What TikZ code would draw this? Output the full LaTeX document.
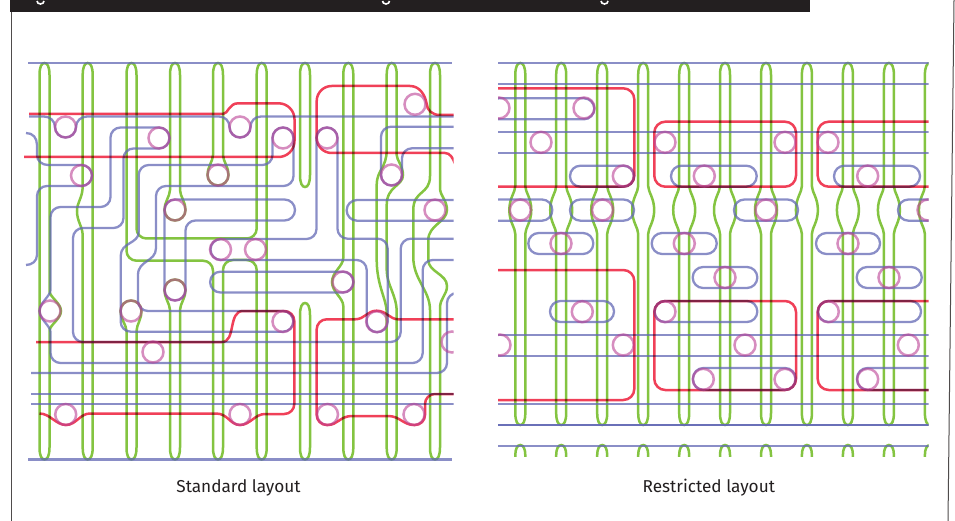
\documentclass[tikz,border=0pt]{standalone}
\usepackage{fontspec}
\setmainfont{Fira Sans}
\definecolor{bl}{HTML}{6369B5}
\definecolor{gr}{HTML}{84C441}
\definecolor{rd}{HTML}{F04058}
\definecolor{pk}{HTML}{BB4295}
\definecolor{ink}{HTML}{231F20}
\tikzset{
  bline/.style={draw=bl,line width=2.3pt,draw opacity=.75,blend mode=normal},
  gline/.style={draw=gr,line width=2.5pt},
  rline/.style={draw=rd,line width=2.5pt},
  circ/.style={draw=pk,line width=2.5pt,draw opacity=.6,blend mode=normal},
  rc/.style={rounded corners=10pt},
  sc/.style={sharp corners},
  caption/.style={text=ink,font=\fontsize{17.2}{20}\selectfont,anchor=base}
}
% hairpin ends, drawn from the current point on one strand to the other strand
\newcommand\TC[2]{.. controls ({#1-5},{#2-4}) and ({#1-3},#2) .. (#1,#2) .. controls ({#1+3},#2) and ({#1+5},{#2-4}) .. ({#1+5},{#2-12})}
\newcommand\BC[2]{.. controls ({#1+5},{#2+4}) and ({#1+3},#2) .. (#1,#2) .. controls ({#1-3},#2) and ({#1-5},{#2+4}) .. ({#1-5},{#2+12})}
\begin{document}
\begin{tikzpicture}[x=1pt,y=1pt]
\useasboundingbox (0,0) rectangle (955,-521);
\fill[white] (0,0) rectangle (955,-521);
% frame and header
\draw[ink!80,line width=1pt] (11,0) -- (11,-521);
\draw[ink!80,line width=1pt] (954,0) -- (948,-521);
\fill[ink] (10,0) rectangle (810,-12);
\foreach \x in {40.5,386,604.5}
  \draw[white,line width=1.6pt] ({\x-3.5},-1) arc[start angle=180,end angle=360,x radius=3.5,y radius=3];
\node[caption] (std) at (238.5,-492.7) {Standard layout};
\node[caption] (res) at (708.8,-492.7) {Restricted layout};
\begin{scope}[blend mode=multiply]
% ---------- left panel ----------
\begin{scope}
\clip (20,-55) rectangle (453.5,-470);
% green
\draw[gline] (39.5,-75) \TC{44.5}{-63} -- (49.5,-291) .. controls (49.5,-297) and (61,-303) .. (61,-311)
  .. controls (61,-319) and (49.5,-325) .. (49.5,-331) -- (49.5,-447.5) \BC{44.5}{-459.5} -- cycle;
\draw[gline] (82.7,-75) \TC{87.7}{-63} -- (92.7,-447.5) \BC{87.7}{-459.5} -- (82.7,-236)
  .. controls (82.7,-226) and (77,-222) .. (77,-211) .. controls (77,-202) and (82.7,-198) .. (82.7,-186) -- cycle;
\draw[gline] (126.5,-75) \TC{131.5}{-63} [rc] -- (136.5,-238.5) -- (256.7,-238.5) [sc] -- (256.7,-75) \TC{261.7}{-63}
  -- (266.7,-447.5) \BC{261.7}{-459.5} [rc] -- (256.7,-260) -- (223,-260) [sc] -- (223,-447.5) \BC{218}{-459.5}
  [rc] -- (213,-260.7) -- (126.5,-260.7) [sc] -- cycle;
\draw[gline] (213,-75) \TC{218}{-63} -- (223,-155) .. controls (223,-161) and (229,-168) .. (228.5,-175)
  arc[start angle=0,end angle=-180,radius=10.5] .. controls (207,-168) and (213,-161) .. (213,-155) -- cycle;
\draw[gline] (170,-75) \TC{175}{-63} -- (180,-190) .. controls (180,-196) and (186,-203) .. (185.5,-210)
  arc[start angle=0,end angle=-180,radius=10.5] .. controls (164,-203) and (170,-196) .. (170,-190) -- cycle;
\draw[gline] (180,-447.5) \BC{175}{-459.5} -- (170,-310) .. controls (170,-304) and (164,-297) .. (164.5,-290)
  arc[start angle=180,end angle=0,radius=10.5] .. controls (186,-297) and (180,-304) .. (180,-310) -- cycle;
\draw[gline] (136.5,-447.5) \BC{131.5}{-459.5} -- (126.5,-331) .. controls (126.5,-325) and (120,-318) .. (120.5,-311)
  arc[start angle=180,end angle=0,radius=10.5] .. controls (142,-318) and (136.5,-325) .. (136.5,-331) -- cycle;
\draw[gline] (300,-75) \TC{305}{-63} -- (310,-175) \BC{305}{-187} -- cycle;
\draw[gline] (300,-315) \TC{305}{-303} -- (310,-447.5) \BC{305}{-459.5} -- cycle;
\draw[gline] (343.3,-75) \TC{348.3}{-63} -- (353.3,-447.5) \BC{348.3}{-459.5} -- (343.3,-306)
  .. controls (343.3,-298) and (332,-292) .. (332,-282) .. controls (332,-272) and (343.3,-266) .. (343.3,-258) -- cycle;
\draw[gline] (386.7,-75) \TC{391.7}{-63} -- (396.7,-155) .. controls (396.7,-160) and (403,-166) .. (403,-175)
  .. controls (403,-186) and (386.7,-186) .. (386.7,-205) -- (386.7,-270)
  .. controls (386.7,-285) and (396.7,-295) .. (396.7,-312) -- (396.7,-447.5) \BC{391.7}{-459.5}
  -- (386.7,-312) .. controls (386.7,-300) and (376.7,-285) .. (376.7,-260) -- (376.7,-185)
  .. controls (376.7,-170) and (386.7,-168) .. (386.7,-150) -- cycle;
\draw[gline] (430,-75) \TC{435}{-63} -- (440,-188) .. controls (440,-196) and (447,-200) .. (447,-210)
  .. controls (447,-222) and (428.3,-225) .. (428.3,-240) -- (428.3,-260)
  .. controls (428.3,-272) and (447,-274) .. (447,-286) .. controls (447,-295) and (440,-298) .. (440,-308)
  -- (440,-447.5) \BC{435}{-459.5} -- (430,-310) .. controls (430,-290) and (413.3,-280) .. (413.3,-257)
  -- (413.3,-210) .. controls (413.3,-190) and (430,-195) .. (430,-176) -- cycle;
% blue
\draw[bline] (28,-63) -- (452,-63);
\draw[bline] (28,-459.5) -- (452,-459.5);
\draw[bline] (31,-394) -- (460,-394);
\draw[bline] (31,-404) -- (460,-404);
\draw[bline] (29,-116.5) -- (44,-116.5) .. controls (50,-116.5) and (55,-121) .. (55,-127)
  arc[start angle=180,end angle=360,radius=10.5] .. controls (76,-121) and (81,-116.5) .. (87,-116.5)
  -- (219,-116.5) .. controls (225,-116.5) and (229.5,-121) .. (229.5,-127)
  arc[start angle=180,end angle=360,radius=10.5] .. controls (250.5,-121) and (255,-116.5) .. (261,-116.5) -- (460,-116.5);
\draw[bline] (26,-133) .. controls (33,-133) and (37,-138) .. (37,-145) -- (37,-155)
  .. controls (37,-161) and (42,-165) .. (48,-165) -- (81.5,-165)
  arc[start angle=90,end angle=-90,radius=10.5] [rc] -- (37,-186) [sc] -- (37,-255)
  .. controls (37,-261) and (32,-265) .. (26,-265);
\draw[bline] (460,-260) [rc] -- (422.7,-260) -- (422.7,-363) -- (50.5,-363) [sc] -- (50.5,-332)
  .. controls (50.5,-326) and (39.5,-319) .. (39.5,-311) .. controls (39.5,-303) and (50.5,-296) .. (50.5,-290)
  [rc] -- (50.5,-207) -- (110.5,-207) -- (110.5,-127.5) [sc] -- (159,-127.5)
  arc[start angle=90,end angle=-90,radius=10.5] [rc] -- (123.5,-148.5) -- (123.5,-228) -- (73,-228)
  -- (73,-342) -- (400.7,-342) -- (400.7,-238.7) -- (460,-238.7);
\draw[bline] (283,-127.5) arc[start angle=90,end angle=180,radius=10.5] [rc] -- (272.5,-165) -- (138.7,-165)
  [sc] -- (138.7,-232) .. controls (138.7,-244) and (120.7,-242) .. (120.7,-256) [rc] -- (120.7,-331.7) [sc] -- (283,-331.7)
  arc[start angle=-90,end angle=90,radius=10.35] [rc] -- (138,-311) [sc] -- (138,-275)
  .. controls (138,-260) and (156,-262) .. (156,-248) [rc] -- (156,-186) -- (293.5,-186) [sc] -- (293.5,-138)
  arc[start angle=0,end angle=90,radius=10.5] -- cycle;
\draw[bline] (175,-199.5) -- (284.5,-199.5) arc[start angle=90,end angle=-90,radius=10.5]
  [rc] -- (185.5,-220.5) [sc] -- (185.5,-290) arc[start angle=0,end angle=-180,radius=10.5]
  -- (164.5,-210) arc[start angle=180,end angle=90,radius=10.5] -- cycle;
\draw[bline] (343,-271.7) -- (220.5,-271.7) arc[start angle=90,end angle=270,radius=10.4]
  -- (343,-292.5) arc[start angle=-90,end angle=90,radius=10.4] -- cycle;
\draw[bline] (221,-239) arc[start angle=90,end angle=270,radius=10.5] [rc] -- (366.7,-260) [sc] -- (366.7,-321.7)
  arc[start angle=180,end angle=360,radius=10.5] [rc] -- (387.7,-238.7) -- (337.5,-238.7) [sc] -- (337.5,-138)
  arc[start angle=0,end angle=180,radius=10.5] [rc] -- (316.5,-239) [sc] -- cycle;
\draw[bline] (460,-126.7) [rc] -- (381,-126.7) [sc] -- (381,-175) arc[start angle=180,end angle=360,radius=10.5]
  [rc] -- (402,-148.3) -- (460,-148.3);
\draw[bline] (460,-200) -- (357,-200) arc[start angle=90,end angle=270,radius=10.35] -- (460,-220.7);
\draw[bline] (31,-373) [rc] -- (447,-373) -- (447,-293) -- (470,-293);
% red
\draw[rline] (29,-114) -- (223,-114) .. controls (228,-114) and (229,-103.3) .. (238,-103.3)
  [rounded corners=16pt] -- (294.5,-103.3) -- (294.5,-157) -- (24,-157);
\draw[rline] (460,-115) -- (440,-115) .. controls (432,-115) and (427,-110) .. (426.7,-104)
  .. controls (425,-94) and (419,-86) .. (410,-86) [rounded corners=15pt] -- (316.7,-86) -- (316.7,-153) [sc] -- (445,-153)
  .. controls (450,-153) and (453,-158) .. (455,-164);
\draw[rline] (36,-342) -- (222,-342) .. controls (236,-342) and (228,-311) .. (243,-311) [rc] -- (294.3,-311)
  -- (294.3,-414) [sc] -- (265,-414) .. controls (255,-414) and (250,-425) .. (240,-425)
  .. controls (230,-425) and (228,-413.5) .. (216,-413.5) -- (90,-413.5)
  .. controls (80,-413.5) and (76,-425) .. (66,-425) .. controls (56,-425) and (50,-413.5) .. (39.5,-413.5);
\draw[rline] (460,-319.3) -- (398,-319.3) .. controls (390,-319.3) and (386,-310.7) .. (376.7,-310.7)
  .. controls (367,-310.7) and (365,-319.3) .. (355,-319.3) [rc] -- (316.7,-319.3) -- (316.7,-425) [sc] -- (327.5,-425)
  .. controls (338,-425) and (340,-416) .. (352,-416) -- (388,-416) .. controls (400,-416) and (403,-425) .. (414,-425)
  [rc] -- (425,-425) -- (425,-394) -- (460,-394);
% circles
\foreach \x/\y in {65.5/127,159/138,240/127,283/138,327/138,415/104.3,81.5/175.5,218/175,391.5/175,175/210,435/210,220.5/249.5,255.5/249.5,343/282,50/311,131/311,175/290,283/321.5,376.7/321.7,153/352,452/342,65.7/414.5,240/414.5,327.5/414.5,414/414.5}
  \draw[circ] (\x,-\y) circle[radius=10.5];
\end{scope}
% ---------- right panel ----------
\begin{scope}
\clip (498,-55) rectangle (928.5,-456.7);
\foreach \c in {520.3,561.2,602.2,643.2,684.2,725,766,806.9,847.9,888.9,929.9}
  \draw[gline] ({\c-5},-75) \TC{\c}{-63} -- ({\c+5},-186)
    .. controls ({\c+5},-192) and ({\c+11},-198) .. ({\c+11},-210)
    .. controls ({\c+11},-222) and ({\c+5},-228) .. ({\c+5},-234)
    -- ({\c+5},-413) \BC{\c}{-425} -- ({\c-5},-234)
    .. controls ({\c-5},-228) and ({\c-11},-222) .. ({\c-11},-210)
    .. controls ({\c-11},-198) and ({\c-5},-192) .. ({\c-5},-186) -- cycle
    ({\c-5},-462) -- ({\c-5},-455) .. controls ({\c-5},-449) and ({\c-3},-445) .. (\c,-445)
    .. controls ({\c+3},-445) and ({\c+5},-449) .. ({\c+5},-455) -- ({\c+5},-462);
\foreach \y in {63.3,84,131.7,153,335,356,404,446}
  \draw[bline] (490,-\y) -- (940,-\y);
\draw[bline,draw opacity=.95] (490,-425) -- (940,-425);
\foreach \t/\b/\l/\r in {98.3/119.3/488.5/594.3,
  165.7/186.7/570/634,165.7/186.7/671/756.7,165.7/186.7/834/920,
  199.5/220.7/480/552.3,199.5/220.7/570/634,199.5/220.7/734/798,199.5/220.7/898/960,
  233/254/528.3/593.3,233/254/651.7/716.7,233/254/816/880,
  267/288/692.7/757.3,267/288/856.7/921.7,
  301/322/550/614,301/322/654.5/757.3,301/322/818/921,
  368/390/693/795.5,368/390/857/960}
  \draw[bline,rounded corners=10.4pt] (\l,-\t) rectangle (\r,-\b);
\draw[rline,rounded corners=11pt] (490,-88.3) -- (634.3,-88.3) -- (634.3,-186.7) -- (490,-186.7);
\draw[rline,rounded corners=11pt] (654.3,-121.7) rectangle (796,-186.7);
\draw[rline,rounded corners=11pt] (940,-121.7) -- (817.7,-121.7) -- (817.7,-186.7) -- (940,-186.7);
\draw[rline,rounded corners=11pt] (490,-270) -- (634.3,-270) -- (634.3,-400) -- (490,-400);
\draw[rline,rounded corners=11pt] (654.3,-301) rectangle (796,-390);
\draw[rline,rounded corners=11pt] (940,-301) -- (817.7,-301) -- (817.7,-390) -- (940,-390);
\foreach \x/\y in {499/108,584/108,541/142.3,665/142.3,785/142.3,828/142.3,623.3/176,704.3/176,867.7/176,520.3/210,602.5/210,766/210,928/210,561/243.5,684.3/243.5,848/243.5,725/277.5,889/277.5,582.3/311.7,665/311.7,828.3/311.7,500/345,623.3/345,745/345,908.3/345,703.3/379.3,785/379.3,867.7/379.3}
  \draw[circ] (\x,-\y) circle[radius=10.5];
\end{scope}
\end{scope}
\end{tikzpicture}
\end{document}
